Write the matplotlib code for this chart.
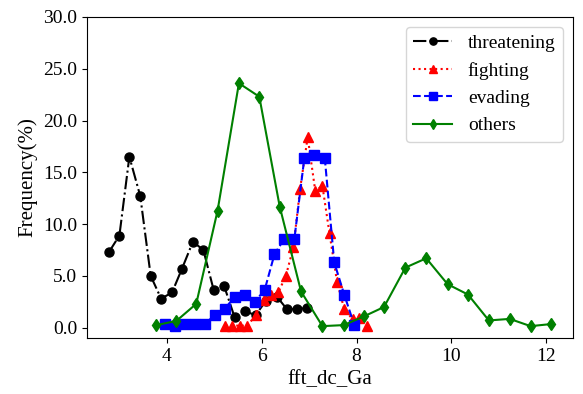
import matplotlib
matplotlib.use("Agg")
import matplotlib.pyplot as plt

plt.rcParams['font.family'] = ['Liberation Serif', 'DejaVu Serif']

thr_x = [2.78, 3.00, 3.21, 3.44, 3.66, 3.88, 4.11, 4.32, 4.55, 4.77,
         4.99, 5.21, 5.43, 5.65, 5.87, 6.09, 6.32, 6.53, 6.74, 6.96]
thr_y = [7.3, 8.9, 16.5, 12.7, 5.0, 2.8, 3.4, 5.7, 8.3, 7.5,
         3.6, 4.0, 1.0, 1.6, 1.2, 2.6, 3.0, 1.8, 1.8, 1.9]

fig_x = [5.23, 5.38, 5.54, 5.70, 5.87, 6.04, 6.20, 6.35, 6.51, 6.67,
         6.81, 6.97, 7.13, 7.28, 7.43, 7.59, 7.74, 7.92, 8.06, 8.22]
fig_y = [0.2, 0.2, 0.2, 0.2, 1.2, 2.7, 3.2, 3.4, 5.0, 7.8,
         13.4, 18.4, 13.2, 13.7, 9.1, 4.4, 1.8, 0.8, 0.9, 0.2]

eva_x = [3.97, 4.18, 4.39, 4.60, 4.81, 5.01, 5.22, 5.43, 5.64, 5.85,
         6.06, 6.27, 6.48, 6.69, 6.90, 7.11, 7.33, 7.53, 7.74, 7.95]
eva_y = [0.35, 0.2, 0.35, 0.35, 0.35, 1.25, 1.8, 3.0, 3.2, 2.5,
         3.6, 7.1, 8.6, 8.6, 16.4, 16.7, 16.4, 6.3, 3.2, 0.3]

oth_x = [3.78, 4.20, 4.62, 5.07, 5.52, 5.95, 6.38, 6.83, 7.28, 7.73,
         8.16, 8.58, 9.03, 9.47, 9.92, 10.35, 10.79, 11.23, 11.67, 12.10]
oth_y = [0.25, 0.65, 2.3, 11.3, 23.6, 22.3, 11.7, 3.5, 0.15, 0.25,
         1.1, 2.0, 5.8, 6.7, 4.2, 3.2, 0.7, 0.85, 0.15, 0.35]

yticks = [0, 5, 10, 15, 20, 25, 30]
xticks = [4, 6, 8, 10, 12]

fig = plt.figure(figsize=(5.83, 3.94), dpi=100)
ax = fig.add_axes([0.149, 0.142, 0.834, 0.815])

ax.plot(thr_x, thr_y, color='black', linestyle='-.', marker='o', markersize=6.5,
        linewidth=1.5, label='threatening')
ax.plot(fig_x, fig_y, color='red', linestyle=':', marker='^', markersize=6.5,
        linewidth=1.5, label='fighting')
ax.plot(eva_x, eva_y, color='blue', linestyle='--', marker='s', markersize=6.5,
        linewidth=1.5, label='evading')
ax.plot(oth_x, oth_y, color='green', linestyle='-', marker='d', markersize=6.5,
        linewidth=1.5, label='others')

ax.set_ylim(-1, 30)
ax.set_yticks(yticks)
ax.set_yticklabels([f"{v:.1f}" for v in yticks])
ax.set_xticks(xticks)
ax.tick_params(labelsize=14)
ax.set_xlabel('fft_dc_Ga', fontsize=15)
ax.set_ylabel('Frequency(%)', fontsize=15)
ax.legend(loc='upper right', fontsize=14, markerscale=0.8)

fig.savefig('out.png', dpi=100)
